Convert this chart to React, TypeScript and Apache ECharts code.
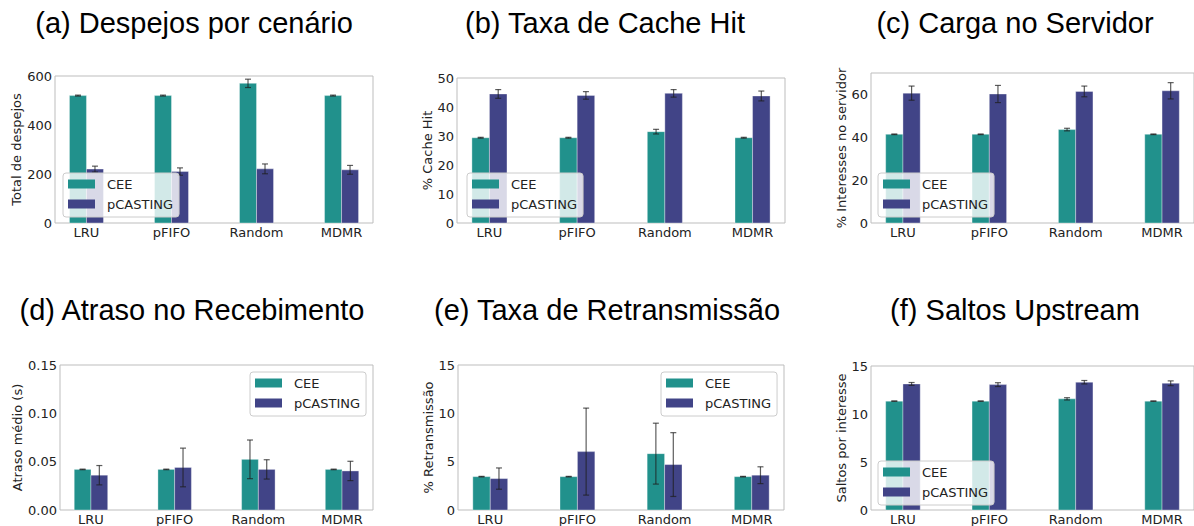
import React, { useEffect, useRef } from "react";
import * as echarts from "echarts";

const categories = ["LRU", "pFIFO", "Random", "MDMR"];
const seriesNames = ["CEE", "pCASTING"];

// (a) Despejos por cenário
const despejosCEE = [520, 520, 570, 520];
const despejosCEEErr = [2, 2, 17, 2];
const despejosPC = [220, 210, 221, 217];
const despejosPCErr = [12, 15, 20, 18];

// (b) Taxa de Cache Hit
const cacheCEE = [29.4, 29.4, 31.5, 29.4];
const cacheCEEErr = [0.15, 0.15, 0.8, 0.15];
const cachePC = [44.5, 44.0, 44.7, 43.8];
const cachePCErr = [1.5, 1.3, 1.3, 1.7];

// (c) Carga no Servidor
const servCEE = [41.4, 41.4, 43.6, 41.4];
const servCEEErr = [0.15, 0.15, 0.6, 0.15];
const servPC = [60.6, 60.2, 61.4, 61.7];
const servPCErr = [3.3, 4.0, 2.5, 3.8];

// (d) Atraso no Recebimento
const atrasoCEE = [0.042, 0.042, 0.0524, 0.042];
const atrasoCEEErr = [0.0003, 0.0003, 0.02, 0.0003];
const atrasoPC = [0.036, 0.044, 0.042, 0.0404];
const atrasoPCErr = [0.01, 0.02, 0.01, 0.01];

// (e) Taxa de Retransmissão
const retxCEE = [3.45, 3.45, 5.83, 3.45];
const retxCEEErr = [0.03, 0.03, 3.15, 0.03];
const retxPC = [3.25, 6.04, 4.7, 3.6];
const retxPCErr = [1.1, 4.5, 3.3, 0.87];

// (f) Saltos Upstream
const saltosCEE = [11.34, 11.34, 11.58, 11.34];
const saltosCEEErr = [0.02, 0.02, 0.12, 0.02];
const saltosPC = [13.13, 13.06, 13.31, 13.2];
const saltosPCErr = [0.15, 0.2, 0.18, 0.25];

const titles = [
  "(a) Despejos por cenário",
  "(b) Taxa de Cache Hit",
  "(c) Carga no Servidor",
  "(d) Atraso no Recebimento",
  "(e) Taxa de Retransmissão",
  "(f) Saltos Upstream",
];
const yNames = [
  "Total de despejos",
  "% Cache Hit",
  "% Interesses no servidor",
  "Atraso médio (s)",
  "% Retransmissão",
  "Saltos por interesse",
];
const yMax = [600, 50, 70, 0.15, 15, 15];
const yInterval = [200, 10, 20, 0.05, 5, 5];

const panelsData = [
  [despejosCEE, despejosCEEErr, despejosPC, despejosPCErr],
  [cacheCEE, cacheCEEErr, cachePC, cachePCErr],
  [servCEE, servCEEErr, servPC, servPCErr],
  [atrasoCEE, atrasoCEEErr, atrasoPC, atrasoPCErr],
  [retxCEE, retxCEEErr, retxPC, retxPCErr],
  [saltosCEE, saltosCEEErr, saltosPC, saltosPCErr],
];

const COLORS = ["#21918c", "#414487"];
const BAR_W = 0.2;

const grids = [
  { left: 55, top: 76, width: 318, height: 147 },
  { left: 457, top: 78, width: 328, height: 145 },
  { left: 871, top: 73, width: 324, height: 150 },
  { left: 60, top: 365, width: 313, height: 146 },
  { left: 458, top: 365, width: 326, height: 146 },
  { left: 871, top: 366, width: 324, height: 145 },
];
const titlePos = [
  [194, 23],
  [605, 23],
  [1015, 23],
  [192, 310],
  [607, 310],
  [1015, 310],
];
const nameGaps = [30, 19, 23, 35, 21, 23];
const legendPos = [
  [63, 173],
  [467, 173],
  [878, 173],
  [250, 372],
  [661, 372],
  [878, 461],
];

function makeRenderItem(which: number) {
  return (params: any, api: any) => {
    const x = api.value(0);
    const v = api.value(1);
    const e = api.value(2);
    const x0 = which === 0 ? x - BAR_W : x;
    const x1 = which === 0 ? x : x + BAR_W;
    const xc = (x0 + x1) / 2;
    const p0 = api.coord([x0, 0]);
    const p1 = api.coord([x1, v]);
    const cx = api.coord([xc, v])[0];
    const top = api.coord([xc, v + e])[1];
    const bot = api.coord([xc, Math.max(v - e, 0)])[1];
    const errStyle = { stroke: "rgba(30,30,30,0.72)", lineWidth: 1.2 };
    return {
      type: "group",
      children: [
        {
          type: "rect",
          shape: { x: p0[0], y: p1[1], width: p1[0] - p0[0], height: p0[1] - p1[1] },
          style: { fill: COLORS[which], stroke: "rgba(255,255,255,0.35)", lineWidth: 1 },
        },
        { type: "line", shape: { x1: cx, y1: top, x2: cx, y2: bot }, style: errStyle },
        { type: "line", shape: { x1: cx - 3, y1: top, x2: cx + 3, y2: top }, style: errStyle },
        { type: "line", shape: { x1: cx - 3, y1: bot, x2: cx + 3, y2: bot }, style: errStyle },
      ],
    };
  };
}

export default function App() {
  const ref = useRef<HTMLDivElement>(null);
  useEffect(() => {
    if (!ref.current) return;
    const chart = echarts.init(ref.current, null, { renderer: "svg" });
    const tickFont = { fontFamily: "DejaVu Sans", fontSize: 13, color: "#222" };

    const series: any[] = [];
    panelsData.forEach((pd, i) => {
      [0, 1].forEach((w) => {
        const vals = pd[w * 2];
        const errs = pd[w * 2 + 1];
        series.push({
          type: "custom",
          name: seriesNames[w],
          xAxisIndex: i,
          yAxisIndex: i,
          itemStyle: { color: COLORS[w] },
          encode: { x: 0, y: 1 },
          renderItem: makeRenderItem(w),
          data: vals.map((v, k) => [k, v, errs[k]]),
        });
      });
    });

    const option: any = {
      animation: false,
      backgroundColor: "#fff",
      grid: grids.map((g) => ({
        ...g,
        show: true,
        borderColor: "#bdbdbd",
        borderWidth: 1,
        backgroundColor: "transparent",
      })),
      xAxis: grids.map((_, i) => ({
        type: "value",
        gridIndex: i,
        min: -0.37,
        max: 3.37,
        axisLine: { show: false },
        axisTick: { show: false },
        splitLine: { show: false },
        axisLabel: {
          ...tickFont,
          margin: 3,
          customValues: [0, 1, 2, 3],
          formatter: (v: number) => categories[Math.round(v)] ?? "",
        },
      })),
      yAxis: grids.map((_, i) => ({
        type: "value",
        gridIndex: i,
        min: 0,
        max: yMax[i],
        interval: yInterval[i],
        name: yNames[i],
        nameLocation: "middle",
        nameGap: nameGaps[i],
        nameTextStyle: { fontFamily: "DejaVu Sans", fontSize: 13, color: "#222" },
        axisLine: { show: false },
        axisTick: { show: false },
        splitLine: { show: false },
        axisLabel: {
          ...tickFont,
          margin: 3,
          showMaxLabel: i === 2 ? false : undefined,
          formatter: i === 3 ? (v: number) => v.toFixed(2) : undefined,
        },
      })),
      legend: legendPos.map((p) => ({
        orient: "vertical",
        left: p[0],
        top: p[1],
        padding: [4, 6, 6, 5],
        itemWidth: 27,
        itemHeight: 9,
        itemGap: 6,
        icon: "rect",
        backgroundColor: "rgba(255,255,255,0.8)",
        borderColor: "#cccccc",
        borderWidth: 1,
        borderRadius: 3,
        selectedMode: false,
        textStyle: {
          fontFamily: "DejaVu Sans",
          fontSize: 13,
          color: "#222",
          lineHeight: 14,
          padding: [0, 0, 0, 7],
        },
        data: [
          { name: "CEE", itemStyle: { color: COLORS[0] } },
          { name: "pCASTING", itemStyle: { color: COLORS[1] } },
        ],
      })),
      graphic: titles.map((t, i) => ({
        type: "text",
        x: titlePos[i][0],
        y: titlePos[i][1],
        style: {
          text: t,
          fontFamily: "Liberation Sans",
          fontSize: 29,
          fill: "#000",
          align: "center",
          verticalAlign: "middle",
        },
      })),
      series,
    };
    chart.setOption(option);
    return () => chart.dispose();
  }, []);
  return (
    <div
      ref={ref}
      style={{ position: "fixed", left: 0, top: 0, width: 1194, height: 526 }}
    />
  );
}
